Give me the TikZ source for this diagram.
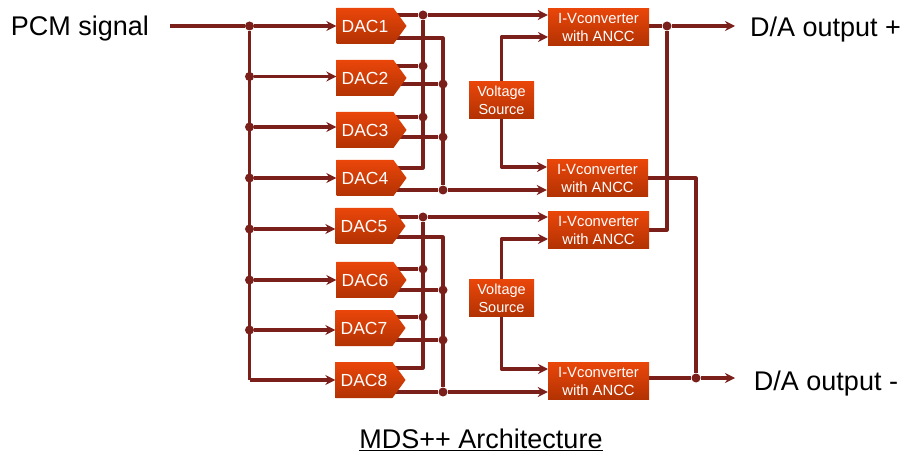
\documentclass[tikz,border=0pt]{standalone}
\usepackage{fontspec}
\setmainfont{Liberation Sans}
\usetikzlibrary{shapes.symbols,backgrounds,arrows.meta}
\definecolor{wirered}{HTML}{7B1F1A}
\definecolor{boxtop}{HTML}{EA460A}
\definecolor{boxbot}{HTML}{B23203}
\tikzset{
  dacbox/.style={shape=signal, signal to=east, signal from=nowhere, signal pointer angle=108,
    minimum width=70pt, minimum height=36pt, inner sep=0pt, top color=boxtop, bottom color=boxbot,
    text=white, font=\fontsize{17.5}{19}\selectfont},
  ivbox/.style={rectangle, minimum width=101pt, minimum height=37pt, inner sep=0pt, align=center,
    top color=boxtop, bottom color=boxbot, text=white, font=\fontsize{14.8}{18}\selectfont},
  vsbox/.style={rectangle, minimum width=65pt, minimum height=37pt, inner sep=0pt, align=center,
    top color=boxtop, bottom color=boxbot, text=white, font=\fontsize{14.5}{18}\selectfont},
  dot/.style={circle, fill=wirered, inner sep=0pt, minimum size=9pt},
  wire/.style={draw=wirered, line width=3.2pt, line join=round},
  arr/.style={wire, -{Stealth[length=10pt,width=10pt]}},
  lbl/.style={text=black, font=\fontsize{27}{30}\selectfont}
}
\begin{document}
\begin{tikzpicture}[x=1pt, y=-1pt]
  \useasboundingbox (0,0) rectangle (902,454);
  \node[lbl] (PCM) at (80,29) {PCM signal};
  \node[lbl] (OutP) at (825.5,30) {D/A output +};
  \node[lbl] (OutM) at (826,384) {D/A output -};
  \node[lbl] (Title) at (481,440) {\underline{MDS++ Architecture}};

  \node[dacbox] (DAC1) at (365,26) {DAC1};  \node[dacbox] (DAC2) at (365,78) {DAC2};
  \node[dacbox] (DAC3) at (365,130) {DAC3}; \node[dacbox] (DAC4) at (365,178) {DAC4};
  \node[dacbox] (DAC5) at (364,226) {DAC5}; \node[dacbox] (DAC6) at (365,280) {DAC6};
  \node[dacbox] (DAC7) at (364,328) {DAC7}; \node[dacbox] (DAC8) at (364,380) {DAC8};

  \node[ivbox] (IV1) at (598.5,27) {I-Vconverter\\with ANCC};
  \node[ivbox] (IV2) at (597.5,178) {I-Vconverter\\with ANCC};
  \node[ivbox] (IV3) at (598.5,230) {I-Vconverter\\with ANCC};
  \node[ivbox] (IV4) at (598.5,381) {I-Vconverter\\with ANCC};
  \node[vsbox] (VS1) at (501.5,100) {Voltage\\Source};
  \node[vsbox] (VS2) at (501.5,298) {Voltage\\Source};

  % input bus
  \coordinate (Pin) at (170,26);
  \node[dot] (B1) at (249.5,26) {};  \node[dot] (B2) at (249.5,76.5) {};
  \node[dot] (B3) at (249.5,127) {}; \node[dot] (B4) at (249.5,178) {};
  \node[dot] (B5) at (249.5,229) {}; \node[dot] (B6) at (249.5,280) {};
  \node[dot] (B7) at (249.5,330) {}; \coordinate (B8) at (249.5,380);

  % rails of the DACs
  \node[dot] (U1) at (423,15) {};  \node[dot] (U2) at (423,66) {};
  \node[dot] (U3) at (423,117) {}; \coordinate (U4) at (423,168);
  \coordinate (L1) at (443,38);    \node[dot] (L2) at (443,84) {};
  \node[dot] (L3) at (443,137) {}; \node[dot] (L4) at (443,190) {};
  \node[dot] (U5) at (423,217) {}; \node[dot] (U6) at (423,269) {};
  \node[dot] (U7) at (423,317) {}; \coordinate (U8) at (423,368);
  \coordinate (L5) at (443,237);   \node[dot] (L6) at (443,290) {};
  \node[dot] (L7) at (443,340) {}; \node[dot] (L8) at (443,392) {};

  % second inputs of the converters
  \coordinate (I1) at (548,37);  \coordinate (I2) at (547,167);
  \coordinate (I3) at (548,239); \coordinate (I4) at (548,369);

  % outputs
  \node[dot] (O1) at (667,26) {};  \node[dot] (O2) at (696,378) {};
  \coordinate (Ep) at (735,26);    \coordinate (Em) at (735,378);

  \begin{scope}[on background layer]
    \draw[wire] (Pin) -- (B1);
    \draw[wire] (B1) -- (B8);
    \draw[arr] (B1) -- (B1 -| DAC1.west);
    \draw[arr] (B2) -- (B2 -| DAC2.west);
    \draw[arr] (B3) -- (B3 -| DAC3.west);
    \draw[arr] (B4) -- (B4 -| DAC4.west);
    \draw[arr] (B5) -- (B5 -| DAC5.west);
    \draw[arr] (B6) -- (B6 -| DAC6.west);
    \draw[arr] (B7) -- (B7 -| DAC7.west);
    \draw[arr] (B8) -- (B8 -| DAC8.west);

    \draw[wire] (U1 -| DAC1) -- (U1) -- (U4) -- (U4 -| DAC4);
    \draw[wire] (U2 -| DAC2) -- (U2);
    \draw[wire] (U3 -| DAC3) -- (U3);
    \draw[wire] (L1 -| DAC1) -- (L1) -- (L4) -- (L4 -| DAC4);
    \draw[wire] (L2 -| DAC2) -- (L2);
    \draw[wire] (L3 -| DAC3) -- (L3);
    \draw[arr] (U1) -- (U1 -| IV1.west);
    \draw[arr] (L4) -- (L4 -| IV2.west);

    \draw[wire] (U5 -| DAC5) -- (U5) -- (U8) -- (U8 -| DAC8);
    \draw[wire] (U6 -| DAC6) -- (U6);
    \draw[wire] (U7 -| DAC7) -- (U7);
    \draw[wire] (L5 -| DAC5) -- (L5) -- (L8) -- (L8 -| DAC8);
    \draw[wire] (L6 -| DAC6) -- (L6);
    \draw[wire] (L7 -| DAC7) -- (L7);
    \draw[arr] (U5) -- (U5 -| IV3.west);
    \draw[arr] (L8) -- (L8 -| IV4.west);

    \draw[arr] (VS1.north) |- (I1);
    \draw[arr] (VS1.south) |- (I2);
    \draw[arr] (VS2.north) |- (I3);
    \draw[arr] (VS2.south) |- (I4);

    \draw[wire] (O1 -| IV1.east) -- (O1);
    \draw[arr] (O1) -- (Ep);
    \draw[wire] (O1) |- (IV3.east);
    \draw[wire] (IV2.east) -| (O2);
    \draw[wire] (O2 -| IV4.east) -- (O2);
    \draw[arr] (O2) -- (Em);
  \end{scope}
\end{tikzpicture}
\end{document}
